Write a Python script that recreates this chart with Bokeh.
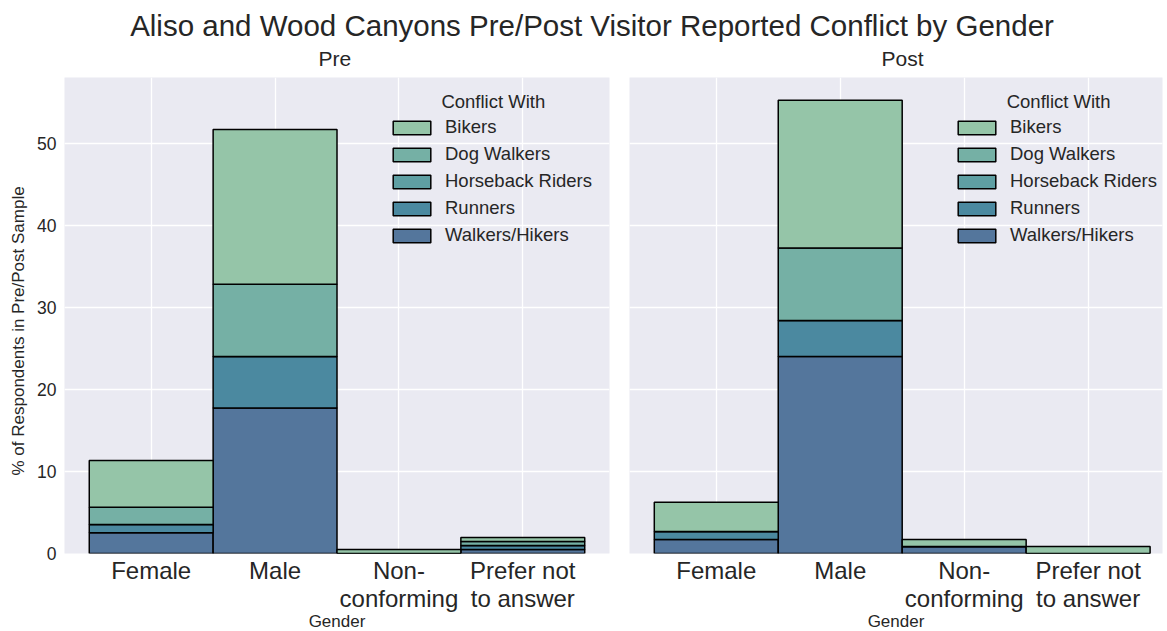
from bokeh.plotting import figure
from bokeh.models import (Range1d, FixedTicker, Legend, LegendItem, Label, Title,
                          ColumnDataSource, Div)
from bokeh.layouts import column, row
from bokeh.embed import file_html
from bokeh.resources import INLINE

# ---------------- data ----------------
genders = ["Female", "Male", "Non-conforming", "Prefer not to answer"]
tick_labels = ["Female", "Male", "Non-\nconforming", "Prefer not\nto answer"]
conflict_keys = ["walkers", "runners", "horseback", "dog", "bikers"]
conflict_labels = ["Walkers/Hikers", "Runners", "Horseback Riders", "Dog Walkers", "Bikers"]
conflict_colors = ["#54769c", "#4b89a0", "#5f9fa3", "#75b0a5", "#95c5a8"]

pre_walkers = [2.53, 17.76, 0.0, 0.49]
pre_runners = [1.01, 6.30, 0.0, 0.49]
pre_horseback = [0.0, 0.0, 0.0, 0.0]
pre_dog = [2.11, 8.81, 0.0, 0.49]
pre_bikers = [5.70, 18.87, 0.49, 0.49]

post_walkers = [1.71, 24.06, 0.86, 0.0]
post_runners = [0.97, 4.39, 0.0, 0.0]
post_horseback = [0.0, 0.0, 0.0, 0.0]
post_dog = [0.0, 8.83, 0.0, 0.0]
post_bikers = [3.58, 18.05, 0.86, 0.86]

TXT = "#262626"
FONT = "Liberation Sans"
BG = "#eaeaf2"


def make_panel(title, series, x_end, frame_width, show_y, border_left, border_right, title_offset):
    src = ColumnDataSource(dict(x=list(range(len(genders))), gender=genders, **series))
    p = figure(frame_width=frame_width, frame_height=476,
               x_range=Range1d(-0.7, x_end), y_range=Range1d(0, 58.1),
               output_backend="svg", toolbar_location=None,
               min_border_left=border_left, min_border_right=border_right,
               min_border_top=0, min_border_bottom=0,
               background_fill_color=BG, border_fill_color=None,
               outline_line_color=None)
    p.title.text = title
    p.title.text_font = FONT
    p.title.text_font_size = "21px"
    p.title.text_font_style = "normal"
    p.title.text_color = TXT
    p.title.align = "left"
    p.title.offset = title_offset
    p.title.standoff = 15

    renderers = p.vbar_stack(conflict_keys, x="x", width=1.0, source=src,
                             fill_color=conflict_colors, line_color="black",
                             line_width=1.5)

    p.xaxis.ticker = FixedTicker(ticks=[0, 1, 2, 3])
    p.xaxis.major_label_overrides = {i: lab for i, lab in enumerate(tick_labels)}
    p.xaxis.major_label_text_font = FONT
    p.xaxis.major_label_text_font_size = "24px"
    p.xaxis.major_label_text_line_height = 1.04
    p.xaxis.major_label_text_color = TXT
    p.xaxis.major_label_standoff = 3
    p.xaxis.major_tick_out = 0
    p.xaxis.major_tick_in = 0
    p.xaxis.axis_label = "Gender"
    p.xaxis.axis_label_text_font = FONT
    p.xaxis.axis_label_text_font_size = "17px"
    p.xaxis.axis_label_text_font_style = "normal"
    p.xaxis.axis_label_text_color = TXT
    p.xaxis.axis_label_standoff = -3
    p.xaxis.axis_line_color = None
    p.xaxis.major_tick_line_color = None
    p.xaxis.minor_tick_line_color = None

    p.yaxis.ticker = FixedTicker(ticks=[0, 10, 20, 30, 40, 50])
    p.yaxis.major_label_text_font = FONT
    p.yaxis.major_label_text_font_size = "17.5px"
    p.yaxis.major_label_text_color = TXT
    p.yaxis.major_label_standoff = 8
    p.yaxis.major_tick_out = 0
    p.yaxis.major_tick_in = 0
    p.yaxis.axis_line_color = None
    p.yaxis.major_tick_line_color = None
    p.yaxis.minor_tick_line_color = None
    if show_y:
        p.add_layout(Title(text="% of Respondents in Pre/Post Sample", align="left",
                           offset=78, standoff=13, text_font=FONT,
                           text_font_size="17px", text_font_style="normal",
                           text_color=TXT), "left")
    else:
        p.yaxis.visible = False

    p.xgrid.ticker = FixedTicker(ticks=[0, 1, 2, 3])
    p.ygrid.ticker = FixedTicker(ticks=[0, 10, 20, 30, 40, 50])
    for g in (p.xgrid, p.ygrid):
        g.grid_line_color = "white"
        g.grid_line_width = 1.3
    p.xgrid.level = "image"
    p.ygrid.level = "image"

    items = [LegendItem(label=lab, renderers=[r])
             for lab, r in zip(reversed(conflict_labels), reversed(renderers))]
    legend = Legend(items=items, location=(324, 307),
                    label_text_font=FONT, label_text_font_size="18.5px",
                    label_text_color=TXT, glyph_width=47, glyph_height=17,
                    label_standoff=10, spacing=5, label_height=22,
                    padding=0, margin=0, background_fill_alpha=0,
                    border_line_alpha=0)
    p.add_layout(legend)
    p.add_layout(Label(x=2.343, y=55.16, text="Conflict With", text_font=FONT,
                       text_font_size="18.5px", text_color=TXT,
                       text_baseline="middle", text_align="left"))
    return p


pre_series = dict(walkers=pre_walkers, runners=pre_runners, horseback=pre_horseback,
                  dog=pre_dog, bikers=pre_bikers)
post_series = dict(walkers=post_walkers, runners=post_runners, horseback=post_horseback,
                   dog=post_dog, bikers=post_bikers)

p1 = make_panel("Pre", pre_series, 3.7, 545, True, 55, 10, 254)
p2 = make_panel("Post", post_series, 3.6, 533, False, 10, 2, 252)

title = Div(text="Aliso and Wood Canyons Pre/Post Visitor Reported Conflict by Gender",
            width=1146, height=37, margin=(0, 0, 0, 0),
            styles={"font-family": FONT, "font-size": "29.5px", "color": TXT,
                    "text-align": "center", "line-height": "52px",
                    "padding-left": "38px", "overflow": "visible",
                    "box-sizing": "border-box", "white-space": "nowrap"})

layout = column(title, row(p1, p2))
open("out.html", "w").write(file_html(layout, INLINE))
